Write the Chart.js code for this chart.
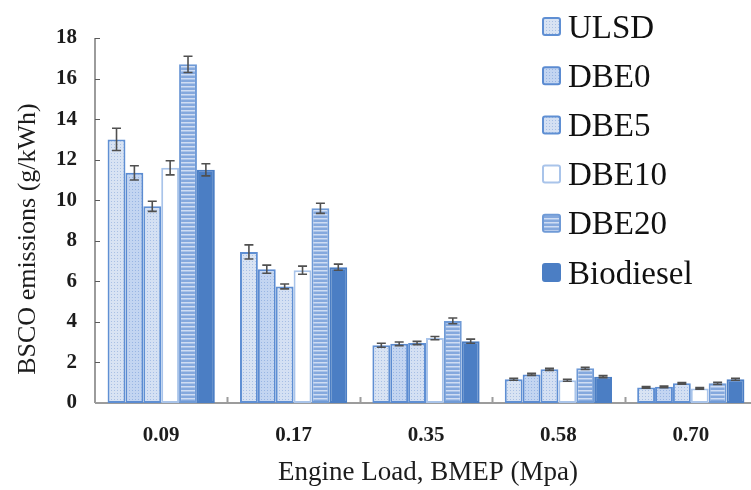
<!DOCTYPE html>
<html>
<head>
<meta charset="utf-8">
<script src="https://cdn.jsdelivr.net/npm/chart.js@4/dist/chart.umd.min.js"></script>
<style>
  html, body { margin: 0; padding: 0; background: #ffffff; overflow: hidden; }
  canvas { display: block; }
</style>
</head>
<body>
<canvas id="c" width="760" height="490"></canvas>
<script>
// Engine loads (BMEP, MPa)
const loads = ['0.09', '0.17', '0.35', '0.58', '0.70'];

// Brake-specific CO emissions (g/kWh) per fuel
const ulsd      = [13.0, 7.45, 2.85, 1.17, 0.77];
const dbe0      = [11.35, 6.6, 2.92, 1.41, 0.80];
const dbe5      = [9.7, 5.75, 2.96, 1.66, 0.97];
const dbe10     = [11.6, 6.55, 3.2, 1.12, 0.72];
const dbe20     = [16.7, 9.6, 4.05, 1.71, 0.97];
const biodiesel = [11.5, 6.7, 3.05, 1.30, 1.17];

// Standard deviations shown as error bars
const ulsdErr      = [0.55, 0.35, 0.10, 0.05, 0.04];
const dbe0Err      = [0.35, 0.20, 0.09, 0.05, 0.04];
const dbe5Err      = [0.25, 0.12, 0.08, 0.05, 0.04];
const dbe10Err     = [0.35, 0.20, 0.08, 0.05, 0.04];
const dbe20Err     = [0.40, 0.25, 0.14, 0.05, 0.05];
const biodieselErr = [0.30, 0.15, 0.10, 0.05, 0.05];

const yTicks = [0, 2, 4, 6, 8, 10, 12, 14, 16, 18];

const SERIF = '"Liberation Serif", "Times New Roman", serif';

// Small repeating fills for the bars
function dotted(bg, dot) {
  const c = document.createElement('canvas');
  c.width = 3; c.height = 3;
  const g = c.getContext('2d');
  g.fillStyle = bg; g.fillRect(0, 0, 3, 3);
  g.fillStyle = dot; g.fillRect(0, 0, 1, 1);
  return g.createPattern(c, 'repeat');
}
function striped(rows) {
  const c = document.createElement('canvas');
  c.width = 4; c.height = rows.length;
  const g = c.getContext('2d');
  rows.forEach((col, i) => { g.fillStyle = col; g.fillRect(0, i, 4, 1); });
  return g.createPattern(c, 'repeat');
}

const series = [
  { label: 'ULSD',      data: ulsd,      err: ulsdErr,      bg: dotted('#d8e3f3', '#a9c0e4'), border: '#5f8fd3' },
  { label: 'DBE0',      data: dbe0,      err: dbe0Err,      bg: dotted('#c3d5f1', '#98b5e3'), border: '#5b8bd1' },
  { label: 'DBE5',      data: dbe5,      err: dbe5Err,      bg: dotted('#d4e0f3', '#a6bee5'), border: '#5f8fd3' },
  { label: 'DBE10',     data: dbe10,     err: dbe10Err,     bg: '#ffffff',                    border: '#a9c4ea' },
  { label: 'DBE20',     data: dbe20,     err: dbe20Err,     bg: striped(['#84a8dd', '#84a8dd', '#d0ddf3', '#a9c3e9']), border: '#6f9ad6' },
  { label: 'Biodiesel', data: biodiesel, err: biodieselErr, bg: '#4b7ec4',                    border: '#4b7ec4' }
];

// Error bars drawn through the value scale
const errorBars = {
  id: 'errorBars',
  afterDatasetsDraw(chart) {
    const ctx = chart.ctx, y = chart.scales.y;
    ctx.save();
    ctx.strokeStyle = '#505050';
    ctx.lineWidth = 1.6;
    chart.data.datasets.forEach((ds, i) => {
      const meta = chart.getDatasetMeta(i);
      meta.data.forEach((bar, j) => {
        const v = ds.data[j], e = ds.err[j];
        const yt = y.getPixelForValue(v + e), yb = y.getPixelForValue(v - e);
        const x = bar.x, w = 4.5;
        ctx.beginPath();
        ctx.moveTo(x, yt); ctx.lineTo(x, yb);
        ctx.moveTo(x - w, yt); ctx.lineTo(x + w, yt);
        ctx.moveTo(x - w, yb); ctx.lineTo(x + w, yb);
        ctx.stroke();
      });
    });
    ctx.restore();
  }
};

// Axis lines, inward tick marks, axis titles and legend
const frame = {
  id: 'frame',
  beforeDatasetsDraw(chart) {
    const ctx = chart.ctx, a = chart.chartArea, x = chart.scales.x, y = chart.scales.y;
    ctx.save();
    // value axis
    ctx.strokeStyle = '#5a5a5a';
    ctx.lineWidth = 1.2;
    ctx.beginPath();
    ctx.moveTo(a.left, a.top); ctx.lineTo(a.left, a.bottom);
    yTicks.forEach(t => {
      const py = Math.round(y.getPixelForValue(t)) + 0.5;
      ctx.moveTo(a.left, py); ctx.lineTo(a.left + 5, py);
    });
    ctx.stroke();
    // category axis with ticks between groups
    ctx.strokeStyle = '#9c9c9c';
    ctx.lineWidth = 2;
    ctx.beginPath();
    ctx.moveTo(a.left, a.bottom); ctx.lineTo(chart.width, a.bottom);
    const step = (a.right - a.left) / loads.length;
    for (let k = 1; k < loads.length; k++) {
      const px = Math.round(a.left + k * step) + 0.5;
      ctx.moveTo(px, a.bottom); ctx.lineTo(px, a.bottom - 6);
    }
    ctx.stroke();
    ctx.restore();
  },
  afterDraw(chart) {
    const ctx = chart.ctx;
    ctx.save();
    ctx.fillStyle = '#1c1c1c';
    // axis titles
    ctx.font = '27px ' + SERIF;
    ctx.textAlign = 'center';
    ctx.textBaseline = 'middle';
    ctx.fillText('Engine Load, BMEP (Mpa)', 428, 473);
    ctx.save();
    ctx.translate(28, 239);
    ctx.rotate(-Math.PI / 2);
    ctx.font = '26px ' + SERIF;
    ctx.fillText('BSCO emissions (g/kWh)', 0, 0);
    ctx.restore();
    // legend
    ctx.textAlign = 'left';
    ctx.textBaseline = 'alphabetic';
    ctx.font = '33px ' + SERIF;
    chart.data.datasets.forEach((ds, i) => {
      const cy = 26.5 + i * 49.2;
      ctx.fillStyle = ds.backgroundColor;
      ctx.strokeStyle = ds.borderColor;
      ctx.lineWidth = 2;
      ctx.beginPath();
      ctx.roundRect(543, cy - 8.5, 17, 17, 2);
      ctx.fill();
      ctx.stroke();
      ctx.fillStyle = '#111111';
      ctx.fillText(ds.label, 568, cy + 11);
    });
    ctx.restore();
  }
};

new Chart(document.getElementById('c'), {
  type: 'bar',
  data: {
    labels: loads,
    datasets: series.map(s => ({
      label: s.label,
      data: s.data,
      err: s.err,
      backgroundColor: s.bg,
      borderColor: s.border,
      borderWidth: 2,
      borderSkipped: false,
      categoryPercentage: 0.81,
      barPercentage: 1.0
    }))
  },
  options: {
    responsive: false,
    animation: false,
    layout: { padding: { top: 38, right: 3, left: 0, bottom: 0 } },
    plugins: { legend: { display: false }, tooltip: { enabled: false } },
    scales: {
      x: {
        grid: { display: false, drawTicks: false },
        border: { display: false },
        ticks: { font: { family: SERIF, size: 21, weight: 'bold' }, color: '#1c1c1c', padding: 20 },
        afterFit(s) { s.height = 87; }
      },
      y: {
        min: 0, max: 18,
        afterBuildTicks(s) { s.ticks = yTicks.map(v => ({ value: v })); },
        grid: { display: false, drawTicks: false },
        border: { display: false },
        ticks: { font: { family: SERIF, size: 21, weight: 'bold' }, color: '#1c1c1c', padding: 18 },
        afterFit(s) { s.width = 95; }
      }
    }
  },
  plugins: [frame, errorBars]
});
</script>
</body>
</html>
